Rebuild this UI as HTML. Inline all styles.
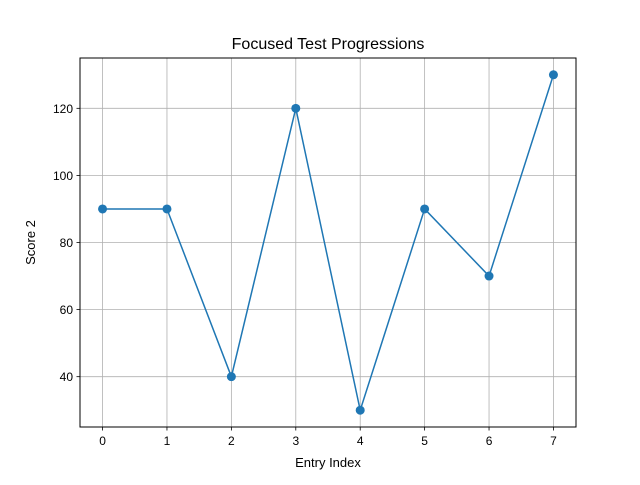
<!DOCTYPE html>
<html><head><meta charset="utf-8"><style>
body{margin:0;background:#fff;font-family:"Liberation Sans","DejaVu Sans",sans-serif;}
</style></head><body>
<svg id="chart" width="640" height="480" xmlns="http://www.w3.org/2000/svg">
<rect width="640" height="480" fill="#fff"/>
<text x="328" y="49" text-anchor="middle" font-size="16" fill="#000">Focused Test Progressions</text>
<g id="grid"></g>
<g id="ticks" font-size="12" fill="#000"></g>
<rect x="80" y="58" width="496" height="369" fill="none" stroke="#000" stroke-width="1"/>
<g id="series"></g>
<text x="328" y="467" text-anchor="middle" font-size="13">Entry Index</text>
<text x="35" y="242.5" text-anchor="middle" font-size="13" transform="rotate(-90 35 242.5)">Score 2</text>
</svg>
<script>
const categories = [0,1,2,3,4,5,6,7];
const values = [90,90,40,120,30,90,70,130];
const yTicks = [40,60,80,100,120];
const xTicks = [0,1,2,3,4,5,6,7];
const NS="http://www.w3.org/2000/svg";
const L=80,R=576,T=58,B=427;
const xMin=-0.35,xMax=7.35,yMin=25,yMax=135;
const xs=v=>L+(v-xMin)/(xMax-xMin)*(R-L);
const ys=v=>B-(v-yMin)/(yMax-yMin)*(B-T);
function mk(tag,attrs,parent){const e=document.createElementNS(NS,tag);for(const k in attrs)e.setAttribute(k,attrs[k]);parent.appendChild(e);return e;}
const grid=document.getElementById('grid'),ticks=document.getElementById('ticks'),series=document.getElementById('series');
xTicks.forEach(t=>{const x=xs(t);
 let g=mk('line',{x1:x,x2:x,y1:T,y2:B,stroke:'#b0b0b0','stroke-width':0.8},grid);
 
 
 let tk=mk('line',{x1:x,x2:x,y1:B,y2:B+3.5,stroke:'#000','stroke-width':0.8},ticks);
 
 
 let tx=mk('text',{x:x,y:B+18,'text-anchor':'middle'},ticks);tx.textContent=t;
 
 
});
yTicks.forEach(t=>{const y=ys(t);
 let g=mk('line',{x1:L,x2:R,y1:y,y2:y,stroke:'#b0b0b0','stroke-width':0.8},grid);
 
 
 let tk=mk('line',{x1:L-3.5,x2:L,y1:y,y2:y,stroke:'#000','stroke-width':0.8},ticks);
 
 
 let tx=mk('text',{x:L-7,y:y+4.5,'text-anchor':'end'},ticks);tx.textContent=t;
 
 
});
const pts=categories.map((c,i)=>xs(c)+','+ys(values[i])).join(' ');
const line=mk('polyline',{points:pts,fill:'none',stroke:'#1f77b4','stroke-width':1.5},series);


categories.forEach((c,i)=>{
 const p=mk('circle',{cx:xs(c),cy:ys(values[i]),r:4.5,fill:'#1f77b4'},series);
 
 
});
</script>
</body></html>
